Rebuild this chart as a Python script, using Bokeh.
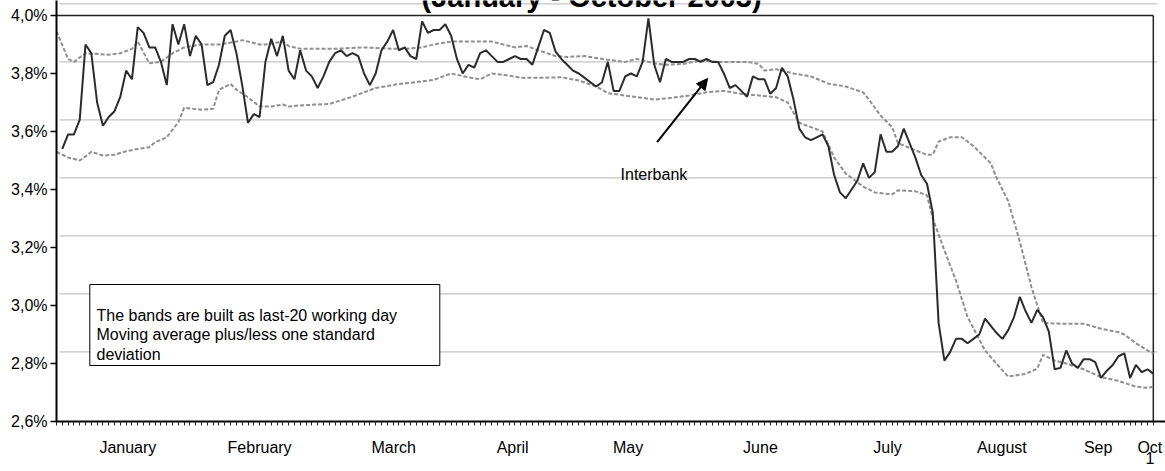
from bokeh.plotting import figure
from bokeh.models import (Range1d, FixedTicker, CustomJSTickFormatter, BoxAnnotation,
                          Label, Arrow, NormalHead)
from bokeh.embed import file_html
from bokeh.resources import INLINE

# ---------------- data (working-day categories, k = 0 .. 189) ----------------
interbank = [
    3.54, 3.59, 3.59, 3.64, 3.90, 3.87, 3.70, 3.62, 3.65, 3.67,
    3.72, 3.81, 3.78, 3.96, 3.94, 3.89, 3.89, 3.84, 3.76, 3.97,
    3.90, 3.97, 3.86, 3.93, 3.90, 3.76, 3.77, 3.83, 3.93, 3.95,
    3.87, 3.76, 3.63, 3.66, 3.65, 3.84, 3.92, 3.86, 3.93, 3.81,
    3.78, 3.88, 3.81, 3.79, 3.75, 3.79, 3.84, 3.87, 3.88, 3.86,
    3.87, 3.86, 3.80, 3.76, 3.80, 3.88, 3.91, 3.95, 3.88, 3.89,
    3.86, 3.85, 3.98, 3.94, 3.95, 3.95, 3.97, 3.93, 3.85, 3.80,
    3.83, 3.82, 3.87, 3.88, 3.86, 3.84, 3.84, 3.85, 3.86, 3.85,
    3.85, 3.83, 3.89, 3.95, 3.94, 3.875, 3.85, 3.83, 3.81, 3.80,
    3.785, 3.77, 3.755, 3.77, 3.84, 3.74, 3.74, 3.79, 3.80, 3.79,
    3.84, 3.99, 3.83, 3.77, 3.85, 3.84, 3.84, 3.84, 3.85, 3.85,
    3.84, 3.85, 3.84, 3.84, 3.80, 3.75, 3.76, 3.74, 3.72, 3.79,
    3.78, 3.78, 3.73, 3.75, 3.82, 3.79, 3.71, 3.61, 3.58, 3.57,
    3.58, 3.59, 3.55, 3.45, 3.39, 3.37, 3.40, 3.43, 3.49, 3.44,
    3.46, 3.59, 3.53, 3.53, 3.55, 3.61, 3.56, 3.51, 3.45, 3.42,
    3.32, 2.94, 2.81, 2.84, 2.885, 2.885, 2.87, 2.885, 2.90, 2.955,
    2.93, 2.905, 2.885, 2.915, 2.96, 3.03, 2.98, 2.94, 2.985, 2.96,
    2.91, 2.78, 2.785, 2.845, 2.80, 2.785, 2.815, 2.815, 2.805, 2.75,
    2.775, 2.795, 2.825, 2.835, 2.75, 2.795, 2.77, 2.78, 2.765,
]
interbank_days = list(range(1, 1 + len(interbank)))

upper_days = [0, 2, 3, 5, 9, 11, 13, 14, 16, 18, 20, 22, 25, 28, 31, 32, 35, 36, 39, 40,
              42, 48, 53, 58, 60, 63, 65, 68, 71, 75, 77, 79, 81, 83, 86, 88, 91, 95, 98, 100,
              103, 105, 108, 111, 114, 117, 119, 121, 122, 124, 127, 130, 133, 136, 139, 140,
              142, 144, 145, 148, 150, 151, 152, 154, 156, 158, 161, 162, 164, 166, 168, 170,
              173, 177, 180, 183, 184, 186, 188, 189]
upper_band = [3.945, 3.85, 3.84, 3.87, 3.865, 3.87, 3.885, 3.91, 3.835, 3.84, 3.87, 3.89,
              3.90, 3.90, 3.91, 3.915, 3.90, 3.90, 3.91, 3.895,
              3.885, 3.885, 3.89, 3.885, 3.885, 3.89, 3.90, 3.91, 3.91, 3.91, 3.90, 3.89,
              3.895, 3.88, 3.86, 3.857, 3.86, 3.847, 3.84, 3.85,
              3.835, 3.83, 3.833, 3.845, 3.84, 3.84, 3.84, 3.833, 3.81, 3.815, 3.80, 3.79,
              3.765, 3.755, 3.735, 3.71,
              3.655, 3.615, 3.56, 3.535, 3.52, 3.52, 3.565, 3.58, 3.58, 3.55, 3.49, 3.44,
              3.36, 3.22, 3.063, 2.94,
              2.937, 2.937, 2.92, 2.908, 2.90, 2.87, 2.845, 2.835]

lower_days = [0, 2, 4, 5, 6, 8, 10, 12, 14, 16, 17, 19, 21, 22, 25, 27, 28, 30, 31, 33,
              35, 37, 39, 40, 42, 47, 51, 55, 58, 59, 62, 65, 68, 71, 73, 75, 78, 80, 83, 87,
              90, 93, 95, 98, 101, 103, 106, 109, 112, 115, 118, 121, 124, 126, 128, 130, 132,
              134, 136, 139, 141, 144, 145, 148, 150, 151, 153, 155, 157, 160, 163, 164, 167,
              169, 170, 172, 174, 177, 180, 183, 186, 188, 189]
lower_band = [3.53, 3.51, 3.50, 3.514, 3.53, 3.517, 3.52, 3.532, 3.54, 3.546, 3.563, 3.58,
              3.632, 3.682, 3.675, 3.678, 3.744, 3.764, 3.744, 3.718,
              3.686, 3.686, 3.693, 3.686, 3.69, 3.695, 3.72, 3.75, 3.76, 3.764, 3.77, 3.778,
              3.80, 3.787, 3.78, 3.80, 3.793, 3.785, 3.785, 3.787,
              3.776, 3.755, 3.732, 3.724, 3.716, 3.71, 3.716, 3.724, 3.735, 3.74, 3.73, 3.724,
              3.718, 3.70, 3.63, 3.615, 3.60,
              3.51, 3.455, 3.41, 3.39, 3.383, 3.397, 3.394, 3.38, 3.30, 3.19, 3.086, 2.96,
              2.845, 2.776, 2.755, 2.764,
              2.782, 2.83, 2.81, 2.80, 2.78, 2.753, 2.74, 2.72, 2.716, 2.72]

y_ticks = [2.6, 2.8, 3.0, 3.2, 3.4, 3.6, 3.8, 4.0]
grid_levels = [2.84, 3.04, 3.24, 3.44, 3.64, 3.84, 4.04]
category_ticks = list(range(0, 190))
month_labels = ["January", "February", "March", "April", "May", "June",
                "July", "August", "Sep", "Oct\n1"]
month_pos = [12.3, 35.0, 58.1, 78.6, 98.5, 121.3, 143.2, 162.9, 179.5, 188.4]

TITLE = "(January - October 2003)"
FONT = "Liberation Sans"
X_END = 191.1        # canvas right edge, in category units
GRID_START = 0.52
GRID_END = 189.73
LAST_CAT = 189.0

p = figure(width=1165, height=471, x_range=Range1d(0, X_END), y_range=Range1d(2.6, 4.0517),
           output_backend="svg", toolbar_location=None,
           min_border_left=56, min_border_right=0, min_border_top=0, min_border_bottom=50)
p.outline_line_color = None
p.grid.visible = False
p.background_fill_color = "white"
p.border_fill_color = "white"

# horizontal gridlines (offset from the tick marks, as in the original)
n = len(grid_levels)
p.segment(x0=[GRID_START] * n, y0=grid_levels, x1=[GRID_END] * n, y1=grid_levels,
          line_color="#c4c4c4", line_width=1.3)

# frame top / right
p.segment(x0=[0, LAST_CAT], y0=[4.0, 2.6], x1=[LAST_CAT, LAST_CAT], y1=[4.0, 4.0],
          line_color="#222222", line_width=1.5)

# bands
p.line(upper_days, upper_band, line_color="#8f8f8f", line_width=2, line_dash="4 2")
p.line(lower_days, lower_band, line_color="#8f8f8f", line_width=2, line_dash="4 2")
# interbank
p.line(interbank_days, interbank, line_color="#2b2b2b", line_width=2)

# axes
yax = p.yaxis[0]
yax.ticker = FixedTicker(ticks=y_ticks)
yax.formatter = CustomJSTickFormatter(code="return tick.toFixed(1).replace('.', ',') + '%';")
yax.major_tick_out = 6
yax.major_tick_in = 0
yax.minor_tick_line_color = None
yax.axis_line_width = 2
yax.axis_line_color = "black"
yax.major_tick_line_color = "black"
yax.major_tick_line_width = 1.5
yax.major_label_standoff = 3
yax.major_label_text_font = FONT
yax.major_label_text_font_size = "16px"
yax.major_label_text_color = "black"

xax = p.xaxis[0]
xax.ticker = FixedTicker(ticks=month_pos, minor_ticks=category_ticks)
xax.major_label_overrides = dict(zip(month_pos, month_labels))
xax.major_tick_line_color = None
xax.major_tick_out = 0
xax.major_tick_in = 0
xax.major_label_standoff = 13
xax.major_label_text_font = FONT
xax.major_label_text_font_size = "16px"
xax.major_label_text_color = "black"
xax.major_label_text_line_height = 0.7
xax.minor_tick_out = 4
xax.minor_tick_in = 0
xax.minor_tick_line_color = "#222222"
xax.minor_tick_line_width = 1
xax.axis_line_width = 2
xax.axis_line_color = "black"

# title (cut by the top edge, as in the original)
p.add_layout(Label(x=92.2, y=4.0642, text=TITLE, text_align="center",
                   text_baseline="alphabetic", text_font=FONT, text_font_size="29px",
                   text_font_style="bold", text_color="black"))

# note box
p.add_layout(BoxAnnotation(left=5.74, right=66.05, top=3.0724, bottom=2.7931,
                           fill_color="white", fill_alpha=1.0, line_color="black",
                           line_alpha=1.0, line_width=1))
note_lines = ["The bands are built as last-20 working day",
              "Moving average plus/less one standard",
              "deviation"]
for txt, yb in zip(note_lines, [2.9662, 2.8986, 2.8310]):
    p.add_layout(Label(x=6.89, y=yb, text=txt, text_align="left", text_baseline="alphabetic",
                       text_font=FONT, text_font_size="16px", text_color="black"))

# Interbank annotation
p.add_layout(Label(x=97.2, y=3.4517, text="Interbank", text_align="left",
                   text_baseline="alphabetic", text_font=FONT, text_font_size="16px",
                   text_color="black"))
p.add_layout(Arrow(end=NormalHead(size=11, fill_color="black", line_color="black"),
                   x_start=103.5, y_start=3.5631, x_end=112.2, y_end=3.7828,
                   line_color="black", line_width=2))

open("out.html", "w").write(file_html(p, INLINE))
